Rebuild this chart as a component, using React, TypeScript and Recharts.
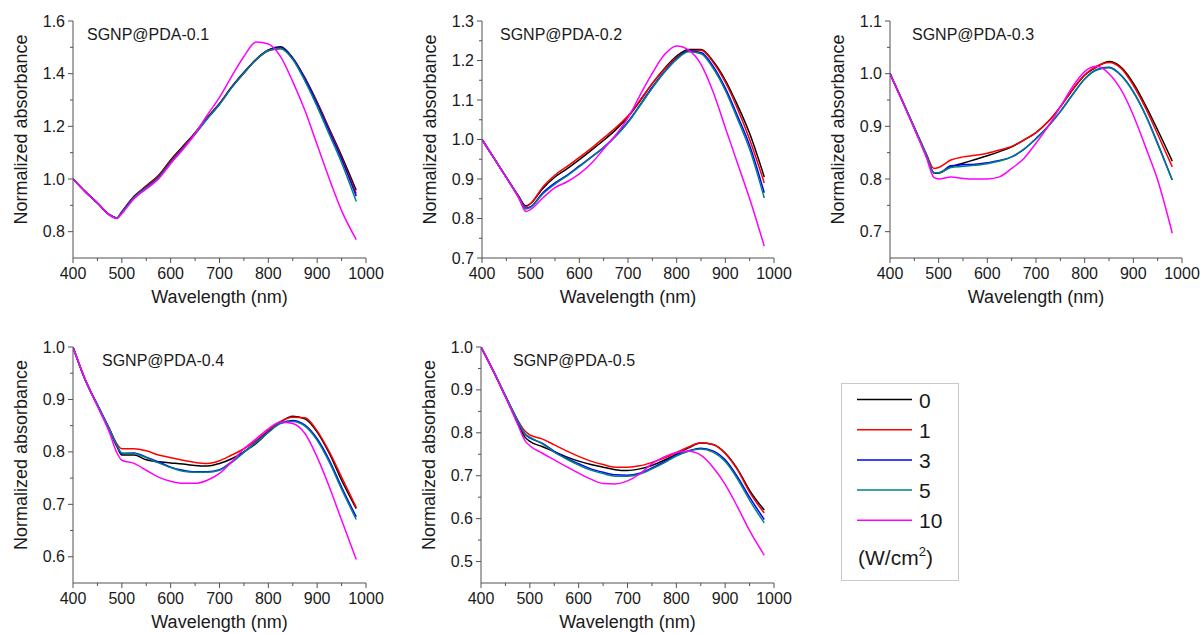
import React from 'react';
import { LineChart, Line, XAxis, YAxis } from 'recharts';

// ---------- shared data ----------
const WAVELENGTHS = [400, 425, 450, 475, 490, 500, 525, 550, 575, 600, 625, 650, 675, 700, 725, 750, 775, 800, 825, 850, 875, 900, 925, 950, 980];
const SERIES_LABELS = ['0', '1', '3', '5', '10'];
const SERIES_COLORS = ['#000000', '#FF0000', '#0000FF', '#008080', '#FF00FF'];
const X_TICKS = [400, 500, 600, 700, 800, 900, 1000];
const X_MINOR = [450, 550, 650, 750, 850, 950];

// ---------- SGNP@PDA-0.1 ----------
const P1_0 = [1.0, 0.952, 0.909, 0.864, 0.852, 0.876, 0.934, 0.974, 1.013, 1.072, 1.124, 1.176, 1.234, 1.287, 1.35, 1.405, 1.455, 1.49, 1.502, 1.46, 1.384, 1.292, 1.19, 1.088, 0.957];
const P1_1 = [1.0, 0.952, 0.909, 0.864, 0.852, 0.875, 0.932, 0.972, 1.01, 1.068, 1.12, 1.174, 1.232, 1.285, 1.348, 1.402, 1.452, 1.487, 1.495, 1.458, 1.382, 1.288, 1.185, 1.08, 0.945];
const P1_3 = [1.0, 0.952, 0.909, 0.864, 0.852, 0.874, 0.93, 0.968, 1.006, 1.064, 1.117, 1.172, 1.23, 1.284, 1.348, 1.403, 1.454, 1.489, 1.498, 1.458, 1.38, 1.285, 1.18, 1.075, 0.935];
const P1_5 = [1.0, 0.952, 0.909, 0.864, 0.852, 0.873, 0.929, 0.966, 1.004, 1.062, 1.115, 1.17, 1.229, 1.283, 1.347, 1.402, 1.453, 1.488, 1.496, 1.454, 1.372, 1.275, 1.168, 1.062, 0.915];
const P1_10 = [1.0, 0.952, 0.909, 0.862, 0.85, 0.868, 0.925, 0.962, 1.0, 1.058, 1.112, 1.172, 1.243, 1.31, 1.39, 1.465, 1.52, 1.513, 1.465, 1.37, 1.26, 1.13, 1.0, 0.88, 0.77];

// ---------- SGNP@PDA-0.2 ----------
const P2_0 = [1.0, 0.952, 0.904, 0.857, 0.832, 0.838, 0.876, 0.905, 0.926, 0.949, 0.973, 0.998, 1.025, 1.057, 1.098, 1.142, 1.18, 1.211, 1.228, 1.228, 1.198, 1.15, 1.087, 1.015, 0.905];
const P2_1 = [1.0, 0.952, 0.904, 0.857, 0.83, 0.838, 0.88, 0.91, 0.932, 0.955, 0.978, 1.004, 1.03, 1.06, 1.1, 1.142, 1.178, 1.208, 1.225, 1.226, 1.195, 1.145, 1.078, 1.0, 0.89];
const P2_3 = [1.0, 0.952, 0.904, 0.855, 0.826, 0.83, 0.865, 0.89, 0.91, 0.933, 0.956, 0.98, 1.01, 1.045, 1.088, 1.133, 1.172, 1.205, 1.224, 1.22, 1.185, 1.13, 1.06, 0.985, 0.865];
const P2_5 = [1.0, 0.952, 0.904, 0.855, 0.824, 0.828, 0.862, 0.887, 0.908, 0.931, 0.955, 0.979, 1.008, 1.043, 1.086, 1.13, 1.17, 1.203, 1.222, 1.217, 1.18, 1.124, 1.052, 0.975, 0.852];
const P2_10 = [1.0, 0.952, 0.903, 0.853, 0.818, 0.823, 0.852, 0.878, 0.893, 0.913, 0.94, 0.976, 1.012, 1.055, 1.113, 1.168, 1.215, 1.237, 1.226, 1.19, 1.12, 1.03, 0.94, 0.85, 0.73];

// ---------- SGNP@PDA-0.3 ----------
const P3_0 = [1.0, 0.949, 0.897, 0.845, 0.812, 0.811, 0.823, 0.83, 0.837, 0.844, 0.852, 0.861, 0.874, 0.888, 0.909, 0.937, 0.969, 0.997, 1.013, 1.023, 1.012, 0.982, 0.94, 0.893, 0.834];
const P3_1 = [1.0, 0.949, 0.897, 0.847, 0.82, 0.822, 0.836, 0.842, 0.845, 0.849, 0.855, 0.862, 0.874, 0.888, 0.909, 0.937, 0.97, 0.998, 1.014, 1.021, 1.01, 0.978, 0.935, 0.885, 0.823];
const P3_3 = [1.0, 0.949, 0.897, 0.845, 0.812, 0.812, 0.825, 0.827, 0.828, 0.831, 0.835, 0.842, 0.856, 0.877, 0.9, 0.928, 0.96, 0.99, 1.008, 1.012, 0.997, 0.966, 0.922, 0.868, 0.798];
const P3_5 = [1.0, 0.95, 0.898, 0.846, 0.812, 0.812, 0.822, 0.824, 0.826, 0.829, 0.834, 0.842, 0.857, 0.876, 0.9, 0.928, 0.96, 0.99, 1.007, 1.011, 0.996, 0.965, 0.921, 0.866, 0.798];
const P3_10 = [1.0, 0.948, 0.895, 0.84, 0.803, 0.8, 0.804, 0.801, 0.8, 0.8, 0.804, 0.82, 0.839, 0.868, 0.9, 0.937, 0.975, 1.004, 1.014, 1.0, 0.969, 0.921, 0.861, 0.798, 0.697];

// ---------- SGNP@PDA-0.4 ----------
const P4_0 = [1.0, 0.937, 0.889, 0.841, 0.81, 0.794, 0.794, 0.785, 0.781, 0.779, 0.777, 0.774, 0.773, 0.778, 0.787, 0.8, 0.816, 0.838, 0.857, 0.868, 0.863, 0.838, 0.797, 0.746, 0.692];
const P4_1 = [1.0, 0.937, 0.889, 0.843, 0.815, 0.806, 0.806, 0.802, 0.794, 0.789, 0.784, 0.78, 0.778, 0.783, 0.794, 0.806, 0.822, 0.841, 0.858, 0.866, 0.865, 0.84, 0.8, 0.752, 0.694];
const P4_3 = [1.0, 0.938, 0.89, 0.843, 0.812, 0.797, 0.798, 0.79, 0.781, 0.771, 0.765, 0.762, 0.762, 0.766, 0.781, 0.8, 0.819, 0.838, 0.855, 0.86, 0.851, 0.825, 0.784, 0.733, 0.676];
const P4_5 = [1.0, 0.938, 0.89, 0.843, 0.812, 0.798, 0.797, 0.789, 0.779, 0.77, 0.763, 0.761, 0.761, 0.765, 0.78, 0.799, 0.818, 0.837, 0.854, 0.858, 0.849, 0.822, 0.78, 0.729, 0.671];
const P4_10 = [1.0, 0.938, 0.887, 0.836, 0.798, 0.784, 0.778, 0.765, 0.752, 0.744, 0.74, 0.74, 0.746, 0.759, 0.781, 0.806, 0.825, 0.844, 0.857, 0.854, 0.835, 0.79, 0.733, 0.67, 0.595];

// ---------- SGNP@PDA-0.5 ----------
const P5_0 = [1.0, 0.944, 0.884, 0.824, 0.79, 0.78, 0.768, 0.756, 0.744, 0.734, 0.726, 0.72, 0.714, 0.712, 0.716, 0.724, 0.736, 0.75, 0.765, 0.776, 0.773, 0.753, 0.716, 0.666, 0.62];
const P5_1 = [1.0, 0.944, 0.886, 0.83, 0.804, 0.795, 0.786, 0.772, 0.758, 0.745, 0.734, 0.726, 0.72, 0.72, 0.723, 0.731, 0.741, 0.754, 0.767, 0.777, 0.773, 0.752, 0.714, 0.662, 0.613];
const P5_3 = [1.0, 0.945, 0.886, 0.828, 0.797, 0.788, 0.776, 0.757, 0.741, 0.728, 0.716, 0.708, 0.702, 0.701, 0.706, 0.718, 0.732, 0.748, 0.758, 0.764, 0.758, 0.737, 0.698, 0.65, 0.598];
const P5_5 = [1.0, 0.946, 0.887, 0.829, 0.798, 0.79, 0.775, 0.755, 0.739, 0.725, 0.713, 0.705, 0.699, 0.699, 0.704, 0.716, 0.73, 0.746, 0.757, 0.762, 0.755, 0.733, 0.693, 0.643, 0.59];
const P5_10 = [1.0, 0.944, 0.884, 0.82, 0.782, 0.77, 0.753, 0.737, 0.721, 0.706, 0.692, 0.682, 0.681, 0.688, 0.704, 0.728, 0.744, 0.754, 0.757, 0.748, 0.72, 0.68, 0.628, 0.572, 0.515];

// ---------- y tick labels ----------
const Y1_TICKS = [0.8, 1.0, 1.2, 1.4, 1.6];
const Y1_MINOR = [0.9, 1.1, 1.3, 1.5];
const Y2_TICKS = [0.7, 0.8, 0.9, 1.0, 1.1, 1.2, 1.3];
const Y2_MINOR = [0.75, 0.85, 0.95, 1.05, 1.15, 1.25];
const Y3_TICKS = [0.7, 0.8, 0.9, 1.0, 1.1];
const Y3_MINOR = [0.75, 0.85, 0.95, 1.05];
const Y4_TICKS = [0.6, 0.7, 0.8, 0.9, 1.0];
const Y4_MINOR = [0.65, 0.75, 0.85, 0.95];
const Y5_TICKS = [0.5, 0.6, 0.7, 0.8, 0.9, 1.0];
const Y5_MINOR = [0.55, 0.65, 0.75, 0.85, 0.95];

const TITLES = ['SGNP@PDA-0.1', 'SGNP@PDA-0.2', 'SGNP@PDA-0.3', 'SGNP@PDA-0.4', 'SGNP@PDA-0.5'];

const AXIS = '#505050';
const TEXT = '#1a1a1a';
const FONT = "'Liberation Sans', Arial, sans-serif";

type PanelCfg = {
  title: string;
  series: number[][];
  yDomain: [number, number];
  yTicks: number[];
  yMinor: number[];
  plotL: number;
  plotT: number;
  plotW: number;
  plotH: number;
  titleX: number;
};

const PANELS: PanelCfg[] = [
  { title: TITLES[0], series: [P1_0, P1_1, P1_3, P1_5, P1_10], yDomain: [0.7, 1.6], yTicks: Y1_TICKS, yMinor: Y1_MINOR, plotL: 73, plotT: 21, plotW: 293, plotH: 237, titleX: 87 },
  { title: TITLES[1], series: [P2_0, P2_1, P2_3, P2_5, P2_10], yDomain: [0.7, 1.3], yTicks: Y2_TICKS, yMinor: Y2_MINOR, plotL: 482, plotT: 21, plotW: 292, plotH: 237, titleX: 500 },
  { title: TITLES[2], series: [P3_0, P3_1, P3_3, P3_5, P3_10], yDomain: [0.65, 1.1], yTicks: Y3_TICKS, yMinor: Y3_MINOR, plotL: 890, plotT: 21, plotW: 292, plotH: 237, titleX: 912 },
  { title: TITLES[3], series: [P4_0, P4_1, P4_3, P4_5, P4_10], yDomain: [0.55, 1.0], yTicks: Y4_TICKS, yMinor: Y4_MINOR, plotL: 73, plotT: 347, plotW: 293, plotH: 236, titleX: 102 },
  { title: TITLES[4], series: [P5_0, P5_1, P5_3, P5_5, P5_10], yDomain: [0.45, 1.0], yTicks: Y5_TICKS, yMinor: Y5_MINOR, plotL: 481, plotT: 347, plotW: 293, plotH: 236, titleX: 513 },
];

function buildData(series: number[][]) {
  return WAVELENGTHS.map((w, i) => {
    const row: Record<string, number> = { w };
    series.forEach((s, k) => {
      row['s' + k] = s[i];
    });
    return row;
  });
}

const ML = 73;
const MT = 15;
const MR = 21;
const XH = 50;

function Panel({ cfg }: { cfg: PanelCfg }) {
  const data = buildData(cfg.series);
  const width = ML + cfg.plotW + MR;
  const height = MT + cfg.plotH + XH;
  const isMajorY = (v: number) => cfg.yTicks.some((t) => Math.abs(t - v) < 1e-6);

  const xTick = (props: any) => {
    const { x, y, payload } = props;
    const v = payload.value;
    const major = X_TICKS.includes(v);
    return (
      <g>
        <line x1={x} y1={y} x2={x} y2={y + (major ? 5 : 3)} stroke={AXIS} strokeWidth={1} />
        {major && (
          <text x={x} y={y + 21} textAnchor="middle" fontSize={16} fill={TEXT} fontFamily={FONT}>
            {v}
          </text>
        )}
      </g>
    );
  };

  const yTick = (props: any) => {
    const { x, y, payload } = props;
    const v = payload.value;
    const major = isMajorY(v);
    return (
      <g>
        <line x1={x} y1={y} x2={x - (major ? 5 : 3)} y2={y} stroke={AXIS} strokeWidth={1} />
        {major && (
          <text x={x - 8} y={y + 5.5} textAnchor="end" fontSize={16} fill={TEXT} fontFamily={FONT}>
            {v.toFixed(1)}
          </text>
        )}
      </g>
    );
  };

  return (
    <div style={{ position: 'absolute', left: cfg.plotL - ML, top: cfg.plotT - MT, width, height }}>
      <LineChart width={width} height={height} data={data} margin={{ top: MT, right: MR, left: 0, bottom: 0 }}>
        <XAxis
          dataKey="w"
          type="number"
          domain={[400, 1000]}
          allowDataOverflow
          ticks={[...X_TICKS, ...X_MINOR]}
          interval={0}
          tickSize={0}
          tickMargin={0}
          tickLine={false}
          height={XH}
          tick={xTick}
          axisLine={{ stroke: AXIS, strokeWidth: 1 }}
        />
        <YAxis
          type="number"
          domain={cfg.yDomain}
          allowDataOverflow
          ticks={[...cfg.yTicks, ...cfg.yMinor]}
          interval={0}
          tickSize={0}
          tickMargin={0}
          tickLine={false}
          width={ML}
          tick={yTick}
          axisLine={{ stroke: AXIS, strokeWidth: 1 }}
        />
        {cfg.series.map((_, k) => (
          <Line
            key={k}
            dataKey={'s' + k}
            name={SERIES_LABELS[k]}
            type="monotone"
            stroke={SERIES_COLORS[k]}
            strokeWidth={1.5}
            dot={false}
            activeDot={false}
            isAnimationActive={false}
          />
        ))}
      </LineChart>
    </div>
  );
}

function Overlay() {
  return (
    <svg
      width={1204}
      height={634}
      style={{ position: 'absolute', left: 0, top: 0, pointerEvents: 'none' }}
      fontFamily={FONT}
    >
      {PANELS.map((p, i) => {
        const cx = p.plotL + p.plotW / 2;
        const cy = p.plotT + p.plotH / 2 - 10;
        const lx = p.plotL - 52;
        return (
          <g key={i}>
            <text x={p.titleX} y={p.plotT + 18.5} fontSize={16} fill={TEXT}>
              {p.title}
            </text>
            <text
              x={lx}
              y={cy}
              fontSize={18}
              fill={TEXT}
              textAnchor="middle"
              dominantBaseline="central"
              transform={`rotate(-90, ${lx}, ${cy})`}
            >
              Normalized absorbance
            </text>
            <text x={cx} y={p.plotT + p.plotH + 44.5} fontSize={18} fill={TEXT} textAnchor="middle">
              Wavelength (nm)
            </text>
          </g>
        );
      })}
      <g>
        <rect x={841.5} y={383.5} width={117} height={197} fill="#ffffff" stroke="#c8c8c8" strokeWidth={1} />
        {SERIES_LABELS.map((lab, k) => {
          const ly = 399.5 + k * 30.2;
          return (
            <g key={lab}>
              <line x1={857} y1={ly} x2={912} y2={ly} stroke={SERIES_COLORS[k]} strokeWidth={1.5} />
              <text x={919} y={ly + 8} fontSize={21} fill={TEXT}>
                {lab}
              </text>
            </g>
          );
        })}
        <text x={858} y={565} fontSize={21} fill={TEXT}>
          (W/cm
          <tspan fontSize={13} dy={-9}>2</tspan>
          <tspan dy={9}>)</tspan>
        </text>
      </g>
    </svg>
  );
}

export default function App() {
  return (
    <div
      style={{
        position: 'absolute',
        left: 0,
        top: 0,
        width: 1204,
        height: 634,
        background: '#ffffff',
        fontFamily: FONT,
        overflow: 'hidden',
      }}
    >
      {PANELS.map((p, i) => (
        <Panel key={i} cfg={p} />
      ))}
      <Overlay />
    </div>
  );
}
